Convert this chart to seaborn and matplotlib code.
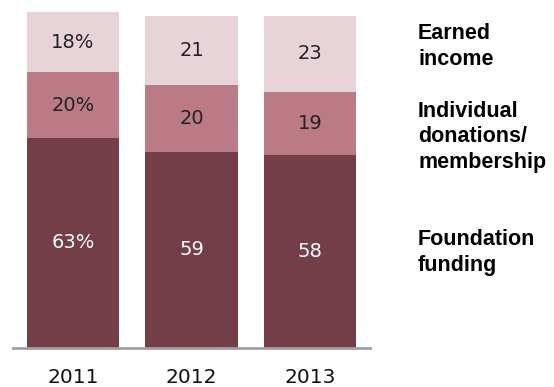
import matplotlib
matplotlib.use("Agg")
import matplotlib.pyplot as plt
import seaborn as sns
import pandas as pd
import numpy as np

years = ["2011", "2012", "2013"]
foundation = [63, 59, 58]
individual = [20, 20, 19]
earned = [18, 21, 23]
foundation_labels = ["63%", "59", "58"]
individual_labels = ["20%", "20", "19"]
earned_labels = ["18%", "21", "23"]
series_names = ["Earned\nincome", "Individual\ndonations/\nmembership", "Foundation\nfunding"]

colors = {"earned": "#E8D4D8", "individual": "#BA7B86", "foundation": "#733E48"}

sns.set_theme(style="white")
plt.rcParams["font.family"] = ["DejaVu Sans"]

fig = plt.figure(figsize=(5.54, 3.87), dpi=100)
ax = fig.add_axes([13/554, 1-347.5/387, (370-13)/554, (347.5-12.4)/387])

f = np.array(foundation)
i = np.array(individual)
e = np.array(earned)
df = pd.DataFrame({"year": years, "total": f + i + e, "mid": f + i, "base": f})

w = 0.777
sns.barplot(data=df, x="year", y="total", color=colors["earned"], width=w, ax=ax, saturation=1, linewidth=0)
sns.barplot(data=df, x="year", y="mid", color=colors["individual"], width=w, ax=ax, saturation=1, linewidth=0)
sns.barplot(data=df, x="year", y="base", color=colors["foundation"], width=w, ax=ax, saturation=1, linewidth=0)

for k in range(3):
    ax.text(k, f[k] / 2, foundation_labels[k], ha="center", va="center", fontsize=14, color="white")
    ax.text(k, f[k] + i[k] / 2, individual_labels[k], ha="center", va="center", fontsize=14, color="#222222")
    ax.text(k, f[k] + i[k] + e[k] / 2, earned_labels[k], ha="center", va="center", fontsize=14, color="#222222")

ax.set_xlim(-0.506, 2.506)
ax.set_ylim(0, 101)
ax.set_xlabel("")
ax.set_ylabel("")
ax.set_yticks([])
for s in ["top", "right", "left"]:
    ax.spines[s].set_visible(False)
ax.spines["bottom"].set_color("#A0A0A0")
ax.spines["bottom"].set_linewidth(2)
ax.tick_params(axis="x", length=0, pad=15, labelsize=14.5, colors="#111111")

label_top = [23, 101, 229]
spacing = [1.33, 1.27, 1.33]
for name, yy, ls in zip(series_names, label_top, spacing):
    fig.text(418/554, 1 - yy/387, name, ha="left", va="top", fontsize=15.5,
             fontweight="bold", family=["Liberation Sans", "DejaVu Sans"], color="black", linespacing=ls)

fig.savefig("out.png", dpi=100)
